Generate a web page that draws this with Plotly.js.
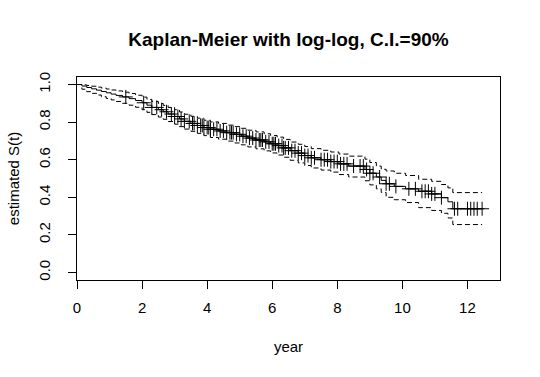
<!DOCTYPE html>
<html>
<head>
<meta charset="utf-8">
<script src="https://cdn.plot.ly/plotly-3.0.1.min.js"></script>
<style>html,body{margin:0;padding:0;background:#fff;}#chart{width:540px;height:377px;}</style>
</head>
<body>
<div id="chart"></div>
<script>
// Kaplan-Meier step values (time of each drop, survival after drop)
const eventTimes = [0, 0.15, 0.3, 0.45, 0.6, 0.75, 0.9, 1.05, 1.2, 1.4, 1.6, 1.8, 2.0, 2.15, 2.3, 2.5, 2.65, 2.8, 3.0, 3.15, 3.3, 3.5, 3.7, 3.9, 4.1, 4.35, 4.6, 4.85, 5.05, 5.25, 5.5, 5.75, 5.95, 6.15, 6.35, 6.55, 6.8, 7.0, 7.2, 7.5, 7.8, 8.05, 8.35, 8.85, 9.0, 9.2, 9.35, 9.5, 9.75, 10.1, 10.5, 10.9, 11.2, 11.4, 11.55];
const survival   = [1.0, 0.992, 0.984, 0.977, 0.97, 0.963, 0.956, 0.949, 0.942, 0.934, 0.925, 0.915, 0.903, 0.89, 0.878, 0.866, 0.855, 0.843, 0.83, 0.817, 0.804, 0.793, 0.782, 0.771, 0.762, 0.753, 0.744, 0.735, 0.725, 0.715, 0.705, 0.695, 0.685, 0.675, 0.663, 0.648, 0.635, 0.622, 0.61, 0.6, 0.59, 0.578, 0.566, 0.548, 0.528, 0.508, 0.49, 0.472, 0.458, 0.445, 0.432, 0.418, 0.398, 0.376, 0.339];
const upperCI    = [1.0, 0.998, 0.995, 0.991, 0.986, 0.981, 0.976, 0.971, 0.966, 0.959, 0.952, 0.943, 0.933, 0.921, 0.91, 0.899, 0.889, 0.878, 0.866, 0.854, 0.842, 0.831, 0.821, 0.81, 0.801, 0.793, 0.784, 0.776, 0.767, 0.757, 0.748, 0.738, 0.729, 0.72, 0.708, 0.694, 0.682, 0.67, 0.659, 0.65, 0.641, 0.63, 0.619, 0.603, 0.585, 0.566, 0.549, 0.54, 0.528, 0.516, 0.496, 0.485, 0.468, 0.45, 0.425];
const lowerCI    = [1.0, 0.975, 0.962, 0.953, 0.944, 0.935, 0.926, 0.918, 0.91, 0.9, 0.89, 0.879, 0.866, 0.852, 0.84, 0.827, 0.815, 0.803, 0.789, 0.776, 0.763, 0.751, 0.74, 0.728, 0.718, 0.709, 0.699, 0.689, 0.679, 0.668, 0.658, 0.647, 0.636, 0.625, 0.613, 0.597, 0.583, 0.569, 0.556, 0.545, 0.534, 0.521, 0.508, 0.488, 0.466, 0.445, 0.426, 0.4, 0.387, 0.372, 0.345, 0.33, 0.315, 0.29, 0.255];
// censoring times ("+" marks)
const censorTimes = [1.5, 2.05, 2.3, 2.45, 2.6, 2.75, 2.9, 3.0, 3.1, 3.2, 3.3, 3.45, 3.55, 3.6, 3.7, 3.8, 3.85, 3.9, 4.0, 4.05, 4.1, 4.2, 4.3, 4.4, 4.5, 4.6, 4.7, 4.75, 4.8, 4.9, 5.0, 5.1, 5.2, 5.3, 5.4, 5.5, 5.6, 5.65, 5.7, 5.8, 5.9, 6.0, 6.05, 6.1, 6.2, 6.3, 6.35, 6.4, 6.5, 6.6, 6.7, 6.8, 6.9, 7.0, 7.1, 7.2, 7.3, 7.5, 7.6, 7.7, 7.8, 7.9, 8.0, 8.1, 8.2, 8.3, 8.5, 8.7, 8.8, 8.9, 9.0, 9.1, 9.3, 9.5, 9.6, 9.8, 10.2, 10.4, 10.6, 10.7, 10.8, 10.9, 11.0, 11.2, 11.6, 11.7, 12.0, 12.1, 12.2, 12.3, 12.45];
const xTickVals = [0, 2, 4, 6, 8, 10, 12];
const yTickVals = [0, 0.2, 0.4, 0.6, 0.8, 1.0];
const yTickText = ["0.0", "0.2", "0.4", "0.6", "0.8", "1.0"];

const endTime = Math.max.apply(null, censorTimes);
function extend(arr) { return arr.concat([arr[arr.length - 1]]); }
const xs = eventTimes.concat([endTime]);
function stepAt(t, arr) {
  let v = arr[0];
  for (let i = 0; i < eventTimes.length; i++) { if (eventTimes[i] <= t) v = arr[i]; }
  return v;
}
const censorS = censorTimes.map(t => stepAt(t, survival));

const font = "Liberation Sans, Arial, sans-serif";
const traces = [
  {x: xs, y: extend(upperCI), mode: 'lines', line: {shape: 'hv', color: '#000', width: 1, dash: '5px,3px'}, hoverinfo: 'skip', name: 'upper'},
  {x: xs, y: extend(lowerCI), mode: 'lines', line: {shape: 'hv', color: '#000', width: 1, dash: '5px,3px'}, hoverinfo: 'skip', name: 'lower'},
  {x: xs, y: extend(survival), mode: 'lines', line: {shape: 'hv', color: '#000', width: 1}, name: 'S(t)'},
  {x: censorTimes, y: censorS, mode: 'markers', marker: {symbol: 'cross-thin-open', size: 10, color: '#000', line: {color: '#000', width: 1}}, name: 'censored'}
];
const layout = {
  width: 540, height: 377,
  margin: {l: 77, r: 40, t: 77, b: 97},
  paper_bgcolor: '#fff', plot_bgcolor: '#fff',
  showlegend: false,
  font: {family: font, size: 15, color: '#000'},
  title: {text: '<b>Kaplan-Meier with log-log, C.I.=90%</b>', font: {family: font, size: 19, color: '#000'},
          x: 0.5, xref: 'paper', y: 1 - 39 / 377, yref: 'container', yanchor: 'middle'},
  xaxis: {range: [0, 13], tickvals: xTickVals, ticks: 'outside', ticklen: 8, tickcolor: '#000', tickwidth: 1,
          showgrid: false, zeroline: false, showline: true, mirror: true, linecolor: '#000', linewidth: 1,
          ticklabelstandoff: 6,
          title: {text: 'year', standoff: 26, font: {family: font, size: 15}}},
  yaxis: {range: [-0.04, 1.04], tickvals: yTickVals, ticktext: yTickText, tickangle: -90, ticks: 'outside', ticklen: 8,
          tickcolor: '#000', tickwidth: 1, showgrid: false, zeroline: false, showline: true, mirror: true,
          linecolor: '#000', linewidth: 1, ticklabelstandoff: 12,
          title: {text: 'estimated S(t)', standoff: 12, font: {family: font, size: 15}}}
};
Plotly.newPlot('chart', traces, layout, {displayModeBar: false, staticPlot: true});
</script>
</body>
</html>
